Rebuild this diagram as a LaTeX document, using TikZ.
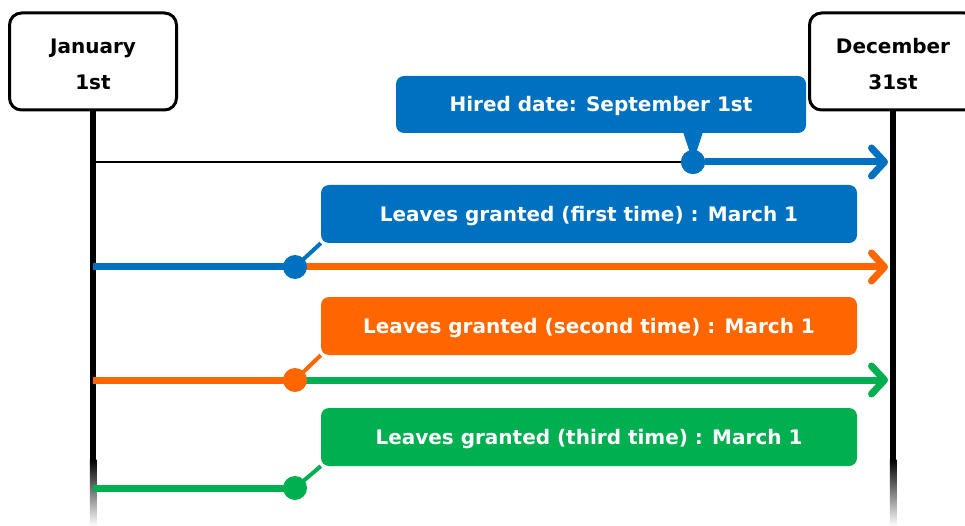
\documentclass[tikz,border=0pt]{standalone}
\usepackage{fontspec}
\setmainfont{DejaVu Sans}
\usetikzlibrary{arrows.meta}
\definecolor{hireblue}{HTML}{0070C0}
\definecolor{grantorange}{HTML}{FF6600}
\definecolor{grantgreen}{HTML}{00B050}
\newcommand{\datestrut}{\rule{0pt}{20.6pt}}
\tikzset{
  datebox/.style={draw=black,line width=3pt,rounded corners=12pt,fill=white,
    minimum width=167pt,minimum height=97pt,align=center,
    font=\bfseries\fontsize{20}{36}\selectfont},
  axis/.style={line width=6.5pt},
  callout/.style={rounded corners=8pt,text=white,minimum width=536pt,
    minimum height=58pt,text height=20pt,text depth=5pt,
    font=\bfseries\fontsize{20}{22}\selectfont},
  dot/.style={circle,inner sep=0pt,minimum size=24pt},
  flow/.style={line width=7pt,-{Straight Barb[length=13pt,width=28pt,line cap=round,line join=round]}},
  stub/.style={line width=7pt},
  link/.style={line width=4pt}
}
\begin{document}
\begin{tikzpicture}[x=1pt,y=-1pt]
  \useasboundingbox (0,0) rectangle (965,526);
  % year boundaries
  \coordinate (janend) at (93,460);
  \coordinate (decend) at (893,460);
  \draw[axis] (93,100) -- (janend);
  \draw[axis] (893,100) -- (decend);
  \shade[top color=black,bottom color=white] (89.75,459.5) rectangle (96.25,526);
  \shade[top color=black,bottom color=white] (889.75,459.5) rectangle (896.25,526);
  \node[datebox] (jan) at (93,61.5) {\datestrut January\\1st};
  \node[datebox] (dec) at (893,61.5) {\datestrut December\\31st};
  % row ends
  \coordinate (s1) at (93,162);
  \coordinate (s2) at (93,267);
  \coordinate (s3) at (93,380);
  \coordinate (s4) at (93,488);
  \coordinate (e1) at (888,162);
  \coordinate (e2) at (888,267);
  \coordinate (e3) at (888,380);
  % hired
  \node[dot,fill=hireblue] (hd) at (693,162) {};
  \draw[line width=1.5pt] (s1) -- (hd);
  \draw[flow,hireblue] (hd) -- (e1);
  \node[callout,fill=hireblue,minimum width=410pt,minimum height=57pt] (hired) at (601,104.5) {Hired date: September 1st};
  \fill[hireblue] (683,132) -- (703,132) -- (hd.center) -- cycle;
  \node[dot,fill=hireblue] at (hd) {};
  % first grant
  \node[dot] (g1) at (295,267) {};
  \draw[stub,hireblue] (s2) -- (g1.center);
  \draw[flow,grantorange] (g1.center) -- (e2);
  \node[callout,fill=hireblue] (b1) at (589,214) {Leaves granted (first time) : March 1};
  \draw[link,hireblue] (g1.center) -- (b1.south west);
  \node[dot,fill=hireblue] at (g1) {};
  % second grant
  \node[dot] (g2) at (295,380) {};
  \draw[stub,grantorange] (s3) -- (g2.center);
  \draw[flow,grantgreen] (g2.center) -- (e3);
  \node[callout,fill=grantorange] (b2) at (589,326) {Leaves granted (second time) : March 1};
  \draw[link,grantorange] (g2.center) -- (b2.south west);
  \node[dot,fill=grantorange] at (g2) {};
  % third grant
  \node[dot] (g3) at (295,488) {};
  \draw[stub,grantgreen] (s4) -- (g3.center);
  \node[callout,fill=grantgreen] (b3) at (589,437) {Leaves granted (third time) : March 1};
  \draw[link,grantgreen] (g3.center) -- (b3.south west);
  \node[dot,fill=grantgreen] at (g3) {};
\end{tikzpicture}
\end{document}
